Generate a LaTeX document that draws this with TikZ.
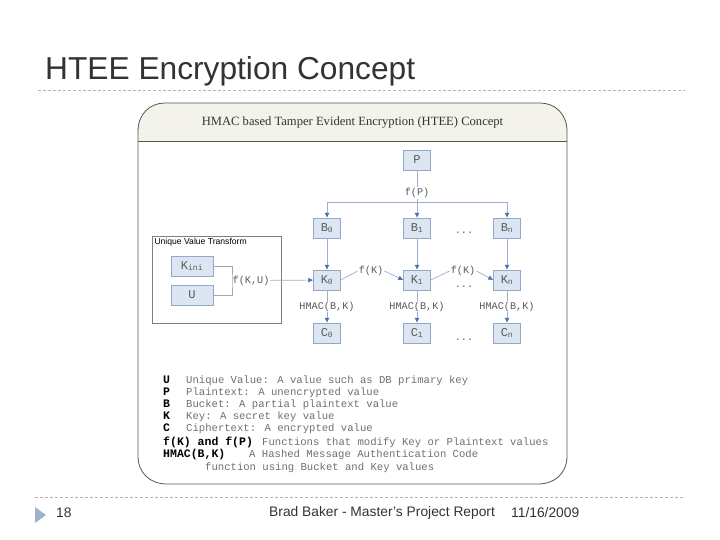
\documentclass[tikz,border=0pt]{standalone}
\usepackage{fontspec}
\setmainfont{Liberation Sans}
\newfontfamily\monofont{Liberation Mono}
\newfontfamily\headfont{Liberation Serif}
\usetikzlibrary{arrows.meta}
\definecolor{boxfill}{HTML}{DCE6F2}
\definecolor{boxline}{HTML}{95A9C6}
\definecolor{flowline}{HTML}{9AB0CF}
\definecolor{flowtip}{HTML}{4A72B0}
\definecolor{labelgray}{HTML}{5A5A5A}
\definecolor{legendgray}{HTML}{707070}
\definecolor{framegray}{HTML}{555555}
\definecolor{headfill}{HTML}{F3F3EC}
\definecolor{dashgray}{HTML}{B4B4B4}
\definecolor{titlegray}{HTML}{333333}
\definecolor{bulletblue}{HTML}{9DB2CC}

\begin{document}
\begin{tikzpicture}[x=1pt,y=-1pt,node distance=90pt,
    block/.style={draw=boxline,fill=boxfill,minimum width=27pt,minimum height=20pt,
                  inner sep=0pt,text=labelgray,font=\monofont\fontsize{12}{14}\selectfont},
    wideblock/.style={block,minimum width=42pt},
    lbl/.style={fill=white,inner sep=1pt,text=labelgray,font=\monofont\fontsize{10.2}{12}\selectfont},
    line/.style={draw=flowline,line width=0.7pt},
    flow/.style={line,-{Latex[length=5pt,width=5pt,color=flowtip]}},
    legkey/.style={anchor=base west,inner sep=0pt,font=\monofont\bfseries\fontsize{11.5}{12}\selectfont},
    legtext/.style={anchor=base west,inner sep=0pt,text=legendgray,font=\monofont\fontsize{10.6}{12}\selectfont},
    foot/.style={anchor=west,inner sep=0pt,text=titlegray,font=\fontsize{13.8}{16}\selectfont}]

        \useasboundingbox (0,0) rectangle (720,540);
        \fill[white] (0,0) rectangle (720,540);

        % slide title and rules
        \node[anchor=base west,inner sep=0pt,text=titlegray,font=\fontsize{31.7}{36}\selectfont]
              (title) at (45,79.5) {HTEE Encryption Concept};
        \draw[dashgray,dash pattern=on 3pt off 2pt] (38,90) -- (685,90);
        \draw[dashgray,dash pattern=on 3pt off 2pt] (35,497) -- (685,497);

        % frame
        \fill[headfill] (138,141) -- (138,131) .. controls (138,114) and (150,103) .. (165,103)
              -- (540,103) .. controls (555,103) and (567,114) .. (567,131) -- (567,141) -- cycle;
        \draw[framegray,line width=0.8pt] (138,131) .. controls (138,114) and (150,103) .. (165,103)
              -- (540,103) .. controls (555,103) and (567,114) .. (567,131) -- (567,456)
              .. controls (567,473) and (555,484) .. (538,484) -- (167,484)
              .. controls (150,484) and (138,473) .. (138,456) -- cycle;
        \draw[framegray,line width=0.6pt] (138,141) -- (567,141);
        \node[text=titlegray,font=\headfont\fontsize{12.6}{14}\selectfont] (head) at (352.5,122)
              {HMAC based Tamper Evident Encryption (HTEE) Concept};

        % main flow
        \node[block]  (P)   at (417,160)                        {P};
        \node[block]  (B1)  [below of=P,node distance=68pt]     {B\textsubscript{1}};
        \node[block]  (B0)  [left of=B1]                        {B\textsubscript{0}};
        \node[block]  (Bn)  [right of=B1]                       {B\textsubscript{n}};
        \node[block]  (K0)  [below of=B0,node distance=52pt]    {K\textsubscript{0}};
        \node[block]  (K1)  [below of=B1,node distance=52pt]    {K\textsubscript{1}};
        \node[block]  (Kn)  [below of=Bn,node distance=52pt]    {K\textsubscript{n}};
        \node[block]  (C0)  [below of=K0,node distance=53pt]    {C\textsubscript{0}};
        \node[block]  (C1)  [below of=K1,node distance=53pt]    {C\textsubscript{1}};
        \node[block]  (Cn)  [below of=Kn,node distance=53pt]    {C\textsubscript{n}};

        \coordinate[below of=P,node distance=42pt] (fork);
        \node[lbl] (fK1) at (371,271) {f(K)};
        \node[lbl] (fK2) at (463,271) {f(K)};
        \node[lbl] (dotsB) at (464,233) {...};
        \node[lbl] (dotsK) at (464,287) {...};
        \node[lbl] (dotsC) at (464,340) {...};

        % unique value transform
        \node[draw=gray,fill=white,minimum width=129pt,minimum height=87pt,inner sep=0pt]
              (uvt) at (216.5,279.5) {};
        \node[anchor=north west,inner sep=2.5pt,text=black,font=\fontsize{8.6}{10}\selectfont]
              at (uvt.north west) {Unique Value Transform};
        \node[wideblock] (Kini) at (192,266)                       {K\textsubscript{ini}};
        \node[wideblock] (U)    [below of=Kini,node distance=29pt] {U};
        \coordinate (join) at (232,280.5);
        \node[lbl,anchor=west,inner sep=0.5pt] (fKU) at (join) {f(K,U)};

        \draw[gray!70,line width=0.7pt] (Kini.east) -| (join) |- (U.east);
        \draw[flow] (fKU) -- (K0);

        \draw[line] (P) -- node[lbl,pos=0.72] {f(P)} (fork);
        \draw[line] (B0 |- fork) -- (Bn |- fork);
        \draw[flow] (B0 |- fork) -- (B0);
        \draw[flow] (fork) -- (B1);
        \draw[flow] (Bn |- fork) -- (Bn);

        \path[flow]
                  (B0) edge (K0)
                  (B1) edge (K1)
                  (Bn) edge (Kn)
                  (K0) edge node[lbl] {HMAC(B,K)} (C0)
                  (K1) edge node[lbl] {HMAC(B,K)} (C1)
                  (Kn) edge node[lbl] {HMAC(B,K)} (Cn);
        \draw[line] (K0.east) -- (fK1.west);
        \draw[flow] (fK1.east) -- (K1.west);
        \draw[line] (K1.east) -- (fK2.west);
        \draw[flow] (fK2.east) -- (Kn.west);

        % legend
        \node[legkey]  (lgU)   at (163,383) {U};
        \node[legtext]         at (186,383) {Unique Value: A value such as DB primary key};
        \node[legkey]  (lgP)   at (163,395) {P};
        \node[legtext]         at (186,395) {Plaintext: A unencrypted value};
        \node[legkey]  (lgB)   at (163,407) {B};
        \node[legtext]         at (186,407) {Bucket: A partial plaintext value};
        \node[legkey]  (lgK)   at (163,419) {K};
        \node[legtext]         at (186,419) {Key: A secret key value};
        \node[legkey]  (lgC)   at (163,431) {C};
        \node[legtext]         at (186,431) {Ciphertext: A encrypted value};
        \node[legkey]  (lgF)   at (163,445) {f(K) and f(P)};
        \node[legtext]         at (262,445) {Functions that modify Key or Plaintext values};
        \node[legkey]  (lgH)   at (163,457) {HMAC(B,K)};
        \node[legtext]         at (249,457) {A Hashed Message Authentication Code};
        \node[legtext]         at (205,470) {function using Bucket and Key values};

        % footer
        \fill[bulletblue] (35,507) -- (46,515) -- (35,523) -- cycle;
        \node[foot] (page) at (56,513) {18};
        \node[foot] (author) at (269,513) {Brad Baker - Master's Project Report};
        \node[foot] (date) at (511,513) {11/16/2009};
\end{tikzpicture}
\end{document}
